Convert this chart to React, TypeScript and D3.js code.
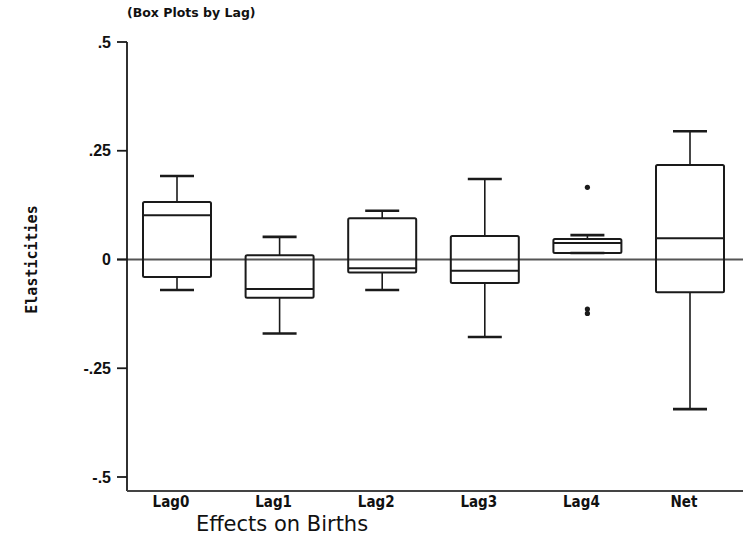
import { useEffect, useRef } from "react";
import * as d3 from "d3";

// values (elasticities)
const categories = ["Lag0", "Lag1", "Lag2", "Lag3", "Lag4", "Net"];
const whiskerHigh = [0.192, 0.052, 0.112, 0.185, 0.056, 0.295];
const q3 = [0.132, 0.01, 0.095, 0.054, 0.047, 0.217];
const median = [0.102, -0.068, -0.02, -0.026, 0.038, 0.049];
const q1 = [-0.04, -0.088, -0.03, -0.054, 0.015, -0.075];
const whiskerLow = [-0.07, -0.17, -0.07, -0.178, 0.015, -0.344];
const outlierCat = ["Lag4", "Lag4", "Lag4"];
const outlierVal = [0.166, -0.114, -0.124];
const tickValues = [0.5, 0.25, 0, -0.25, -0.5];
const tickLabels = [".5", ".25", "0", "-.25", "-.5"];

export default function App() {
  const ref = useRef<SVGSVGElement | null>(null);

  const width = 743;
  const height = 540;

  useEffect(() => {
    const svg = d3.select(ref.current);
    svg.selectAll("*").remove();

    const y = d3.scaleLinear().domain([-0.5, 0.5]).range([477, 42]);
    const x = d3.scalePoint<string>().domain(categories).range([177, 690]);
    const axisX = 127;
    const axisBottom = y(-0.532);
    const boxW = 68;
    const capW = 34;
    const ink = "#1a1a1a";

    const g = svg.append("g");

    // zero reference line
    g.append("line")
      .attr("x1", axisX - 10)
      .attr("x2", width)
      .attr("y1", y(0))
      .attr("y2", y(0))
      .attr("stroke", "#555")
      .attr("stroke-width", 2.2);

    // y axis
    g.append("line")
      .attr("x1", axisX)
      .attr("x2", axisX)
      .attr("y1", y(0.5))
      .attr("y2", axisBottom)
      .attr("stroke", ink)
      .attr("stroke-width", 1.8);

    // x axis
    g.append("line")
      .attr("x1", axisX)
      .attr("x2", width)
      .attr("y1", axisBottom)
      .attr("y2", axisBottom)
      .attr("stroke", "#444")
      .attr("stroke-width", 2);

    tickValues.forEach((v, i) => {
      g.append("line")
        .attr("x1", axisX - 10)
        .attr("x2", axisX)
        .attr("y1", y(v))
        .attr("y2", y(v))
        .attr("stroke", ink)
        .attr("stroke-width", 1.8);
      g.append("text")
        .attr("x", axisX - 16)
        .attr("y", y(v))
        .attr("dy", "0.35em")
        .attr("text-anchor", "end")
        .attr("font-family", "Liberation Sans, sans-serif")
        .attr("font-weight", "bold")
        .attr("font-size", 16)
        .attr("fill", "#111")
        .text(tickLabels[i]);
    });

    // boxes
    categories.forEach((c, i) => {
      const cx = x(c) as number;
      const bg = g.append("g");
      // whiskers
      bg.append("line")
        .attr("x1", cx).attr("x2", cx)
        .attr("y1", y(whiskerHigh[i])).attr("y2", y(q3[i]))
        .attr("stroke", ink).attr("stroke-width", 1.6);
      bg.append("line")
        .attr("x1", cx).attr("x2", cx)
        .attr("y1", y(q1[i])).attr("y2", y(whiskerLow[i]))
        .attr("stroke", ink).attr("stroke-width", 1.6);
      [whiskerHigh[i], whiskerLow[i]].forEach((v) => {
        bg.append("line")
          .attr("x1", cx - capW / 2).attr("x2", cx + capW / 2)
          .attr("y1", y(v)).attr("y2", y(v))
          .attr("stroke", ink).attr("stroke-width", 2.6);
      });
      // box
      bg.append("rect")
        .attr("x", cx - boxW / 2)
        .attr("y", y(q3[i]))
        .attr("width", boxW)
        .attr("height", y(q1[i]) - y(q3[i]))
        .attr("rx", 1.5)
        .attr("fill", "none")
        .attr("stroke", ink)
        .attr("stroke-width", 2);
      bg.append("line")
        .attr("x1", cx - boxW / 2).attr("x2", cx + boxW / 2)
        .attr("y1", y(median[i])).attr("y2", y(median[i]))
        .attr("stroke", ink).attr("stroke-width", 2);
    });

    // outliers
    outlierVal.forEach((v, i) => {
      g.append("circle")
        .attr("cx", x(outlierCat[i]) as number)
        .attr("cy", y(v))
        .attr("r", 2.6)
        .attr("fill", ink);
    });

    // category labels
    categories.forEach((c) => {
      g.append("text")
        .attr("x", (x(c) as number) - 6)
        .attr("y", axisBottom + 16)
        .attr("text-anchor", "middle")
        .attr("font-family", "DejaVu Sans Condensed, DejaVu Sans, sans-serif")
        .attr("font-weight", "bold")
        .attr("font-size", 15)
        .attr("fill", "#111")
        .text(c);
    });

    // axis titles
    svg.append("text")
      .attr("x", 282)
      .attr("y", 531)
      .attr("text-anchor", "middle")
      .attr("font-family", "DejaVu Sans, sans-serif")
      .attr("font-size", 21)
      .attr("fill", "#111")
      .text("Effects on Births");

    svg.append("text")
      .attr("transform", `translate(37, ${y(0)}) rotate(-90)`)
      .attr("text-anchor", "middle")
      .attr("font-family", "DejaVu Sans Mono, monospace")
      .attr("font-weight", "bold")
      .attr("font-size", 15)
      .attr("fill", "#111")
      .text("Elasticities");

    svg.append("text")
      .attr("x", 127)
      .attr("y", 17)
      .attr("font-family", "DejaVu Sans, sans-serif")
      .attr("font-weight", "bold")
      .attr("font-size", 12.5)
      .attr("fill", "#111")
      .text("(Box Plots by Lag)");
  }, []);

  return (
    <svg
      ref={ref}
      width={width}
      height={height}
      style={{ position: "absolute", left: 0, top: 0, background: "#fff" }}
    />
  );
}
